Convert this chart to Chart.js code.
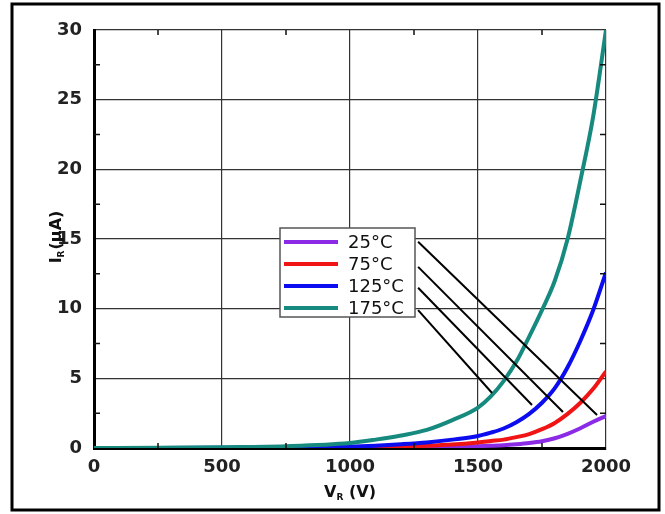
<!DOCTYPE html>
<html>
<head>
<meta charset="utf-8">
<script src="https://cdn.jsdelivr.net/npm/chart.js@4/dist/chart.umd.min.js"></script>
<style>
html, body { margin: 0; padding: 0; background: #fff; }
#wrap { position: relative; width: 665px; height: 514px; }
</style>
</head>
<body>
<div id="wrap"><canvas id="myChart" width="665" height="514"></canvas></div>
<script>
// reverse voltage (V) where the curves were read
var voltage = [0, 250, 500, 750, 1000, 1100, 1200, 1300, 1400, 1500, 1550, 1600, 1650, 1700, 1750, 1800, 1850, 1900, 1950, 2000];

// reverse current (uA) per temperature
var ir25  = [0, 0, 0, 0, 0.01, 0.02, 0.03, 0.05, 0.08, 0.13, 0.16, 0.2, 0.27, 0.36, 0.49, 0.7, 1.02, 1.42, 1.88, 2.3];
var ir75  = [0, 0, 0, 0.01, 0.03, 0.06, 0.1, 0.16, 0.25, 0.4, 0.5, 0.6, 0.78, 1.0, 1.35, 1.8, 2.45, 3.25, 4.25, 5.5];
var ir125 = [0, 0, 0.01, 0.03, 0.1, 0.17, 0.27, 0.4, 0.6, 0.86, 1.1, 1.4, 1.85, 2.45, 3.25, 4.3, 5.8, 7.7, 9.9, 12.6];
var ir175 = [0, 0.02, 0.06, 0.13, 0.36, 0.6, 0.9, 1.3, 2.0, 2.9, 3.7, 4.8, 6.2, 8.0, 9.9, 12.0, 15.0, 19.2, 23.8, 30];

var seriesNames = ['25°C', '75°C', '125°C', '175°C'];
var seriesValues = [ir25, ir75, ir125, ir175];
var seriesColors = ['#8c2be6', '#f01414', '#0c0cf0', '#168a7e'];

// axis ranges
var xMin = 0, xMax = 2000, xStep = 500;
var yMin = 0, yMax = 30, yStep = 5;

// leader lines from legend entries to curves (V, uA)
var leadStartV = [1266, 1266, 1266, 1266];
var leadStartI = [14.8, 13.0, 11.5, 9.9];
var leadEndV = [1965, 1832, 1711, 1555];
var leadEndI = [2.37, 2.58, 3.09, 3.95];

function toPoints(arr) {
    var pts = [];
    for (var i = 0; i < voltage.length; i++)
        pts.push({ x: voltage[i], y: arr[i] });
    return pts;
}

var datasets = [];
for (var s = 0; s < seriesNames.length; s++) {
    datasets.push({
        label: seriesNames[s],
        data: toPoints(seriesValues[s]),
        borderColor: seriesColors[s],
        borderWidth: 4,
        pointRadius: 0,
        fill: false,
        cubicInterpolationMode: 'monotone',
        order: seriesNames.length - 1 - s   // 175C drawn on top
    });
}

var tickFont = { family: 'DejaVu Sans', size: 18, weight: 'bold' };

// minor ticks, axis titles, leader lines, legend box, outer frame
var decorPlugin = {
    id: 'decor',
    afterDatasetsDraw: function (chart) {
        var c = chart.ctx, a = chart.chartArea;
        var xs = chart.scales.x, ys = chart.scales.y;
        c.save();

        // minor ticks, pointing inwards
        c.strokeStyle = '#111';
        c.lineWidth = 1.5;
        for (var v = yStep / 2; v < yMax; v += yStep) {
            var py = ys.getPixelForValue(v);
            c.beginPath();
            c.moveTo(a.left, py); c.lineTo(a.left + 6, py);
            c.moveTo(a.right, py); c.lineTo(a.right - 6, py);
            c.stroke();
        }
        for (var u = xStep / 2; u < xMax; u += xStep) {
            var px = xs.getPixelForValue(u);
            c.beginPath();
            c.moveTo(px, a.bottom); c.lineTo(px, a.bottom - 5);
            c.moveTo(px, a.top); c.lineTo(px, a.top + 5);
            c.stroke();
        }

        // leader lines
        c.strokeStyle = '#000';
        c.lineWidth = 2;
        for (var i = 0; i < leadStartV.length; i++) {
            c.beginPath();
            c.moveTo(xs.getPixelForValue(leadStartV[i]), ys.getPixelForValue(leadStartI[i]));
            c.lineTo(xs.getPixelForValue(leadEndV[i]), ys.getPixelForValue(leadEndI[i]));
            c.stroke();
        }

        // legend box
        var bx = 280, by = 228, bw = 135, bh = 89;
        c.fillStyle = '#fff';
        c.fillRect(bx, by, bw, bh);
        c.strokeStyle = '#555';
        c.lineWidth = 1.5;
        c.strokeRect(bx, by, bw, bh);
        c.font = '18px "DejaVu Sans"';
        c.textBaseline = 'middle';
        c.textAlign = 'left';
        for (var k = 0; k < seriesNames.length; k++) {
            var ry = by + 14 + k * 22;
            c.strokeStyle = seriesColors[k];
            c.lineWidth = 4;
            c.beginPath();
            c.moveTo(bx + 4, ry); c.lineTo(bx + 58, ry);
            c.stroke();
            c.fillStyle = '#111';
            c.fillText(seriesNames[k], bx + 68, ry + 1);
        }

        // x axis title: V_R (V)
        c.fillStyle = '#111';
        c.textBaseline = 'alphabetic';
        var big = 'bold 16px "DejaVu Sans"', small = 'bold 9px "DejaVu Sans"';
        c.font = big; var w1 = c.measureText('V').width, w3 = c.measureText(' (V)').width;
        c.font = small; var w2 = c.measureText('R').width;
        var tx = (a.left + a.right) / 2 - (w1 + w2 + w3) / 2, ty = a.bottom + 49;
        c.font = big; c.fillText('V', tx, ty);
        c.font = small; c.fillText('R', tx + w1, ty + 3);
        c.font = big; c.fillText(' (V)', tx + w1 + w2, ty);

        // y axis title: I_R (uA), rotated
        c.save();
        c.translate(61, (a.top + a.bottom) / 2 - 2);
        c.rotate(-Math.PI / 2);
        c.font = big; var v1 = c.measureText('I').width, v3 = c.measureText('(μA)').width;
        c.font = small; var v2 = c.measureText('R').width + 1;
        var sx = -(v1 + v2 + v3) / 2;
        c.font = big; c.fillText('I', sx, 0);
        c.font = small; c.fillText('R', sx + v1, 3);
        c.font = big; c.fillText('(μA)', sx + v1 + v2, 0);
        c.restore();

        // outer frame
        c.strokeStyle = '#000';
        c.lineWidth = 3;
        c.strokeRect(12, 4, 647, 506);
        c.restore();
    }
};

var ctx = document.getElementById('myChart');

var myChart = new Chart(ctx, {
    type: 'line',
    data: { datasets: datasets },
    options: {
        responsive: false,
        animation: false,
        layout: { padding: { left: 0, top: 30, right: 59, bottom: 0 } },
        plugins: {
            legend: { display: false },
            title: { display: false },
            tooltip: { enabled: false }
        },
        scales: {
            x: {
                type: 'linear',
                min: xMin,
                max: xMax,
                afterFit: function (s) { s.height = 66; },
                ticks: {
                    stepSize: xStep, font: tickFont, color: '#222', padding: 9, maxRotation: 0,
                    callback: function (val) { return String(val); }
                },
                grid: { color: '#333', lineWidth: 1.2, drawTicks: false },
                border: { color: '#000', width: 3 }
            },
            y: {
                min: yMin,
                max: yMax,
                afterFit: function (s) { s.width = 94; },
                ticks: { stepSize: yStep, font: tickFont, color: '#222', padding: 12 },
                grid: { color: '#333', lineWidth: 1.2, drawTicks: false },
                border: { color: '#000', width: 3 }
            }
        }
    },
    plugins: [decorPlugin]
});
</script>
</body>
</html>
